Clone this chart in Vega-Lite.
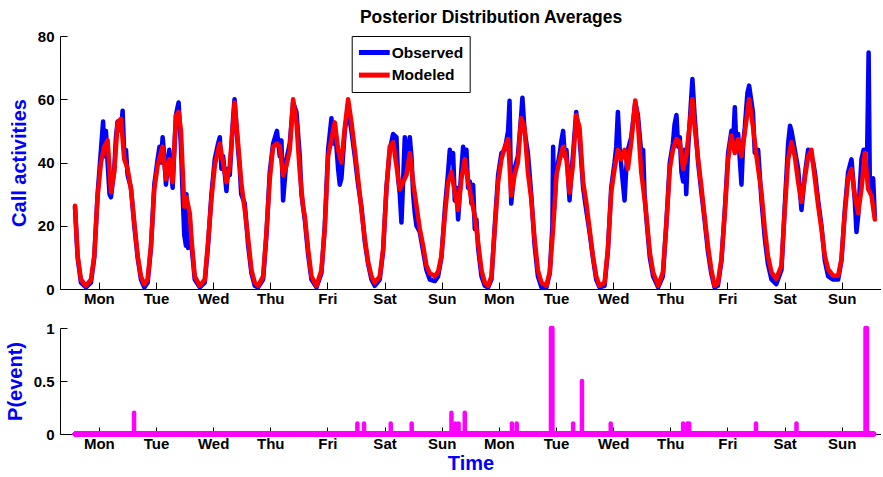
{
  "$schema": "https://vega.github.io/schema/vega-lite/v6.json",
  "padding": {"left": 5, "top": 8, "right": 0, "bottom": 0},
  "background": "white",
  "title": {"text": "Posterior Distribution Averages", "fontSize": 17.5, "fontWeight": "bold", "font": "Liberation Sans", "color": "black", "anchor": "middle", "offset": 3, "dx": 48},
  "config": {
    "font": "Liberation Sans",
    "view": {"stroke": null},
    "axis": {"labelFont": "Liberation Sans", "labelFontSize": 15, "labelFontWeight": "bold", "labelColor": "black", "domainColor": "black", "tickColor": "black", "domainWidth": 1, "tickWidth": 1, "grid": false, "titleFont": "Liberation Sans", "titleColor": "#0000ff", "titleFontSize": 20, "titleFontWeight": "bold"}
  },
  "datasets": {
    "modeled": [
      {"t":0,"v":26.3},{"t":1.1,"v":10.5},{"t":2.5,"v":3},{"t":4.6,"v":1},{"t":6.7,"v":3},{"t":8.1,"v":10.5},{"t":9.5,"v":29.5},{"t":10.9,"v":40},{"t":12.3,"v":45},{"t":13.7,"v":47},{"t":14.5,"v":38},{"t":15.1,"v":30.6},{"t":16.5,"v":37},{"t":17.9,"v":52.7},{"t":19.3,"v":53.8},{"t":20.7,"v":41},{"t":22.1,"v":38},{"t":23.5,"v":31.6},{"t":24.9,"v":21},{"t":26.3,"v":10.5},{"t":27.7,"v":4},{"t":29.1,"v":1.5},{"t":30.5,"v":3},{"t":31.9,"v":13.7},{"t":33.3,"v":31.6},{"t":34.7,"v":39},{"t":36.1,"v":43},{"t":36.8,"v":45},{"t":38.2,"v":34.8},{"t":39.6,"v":41},{"t":41,"v":33.8},{"t":42.4,"v":54.8},{"t":43.5,"v":56},{"t":44.5,"v":50},{"t":45.9,"v":26},
      {"t":46.8,"v":29},{"t":48.2,"v":24},{"t":48.9,"v":16},{"t":50.3,"v":4},{"t":52.4,"v":1},{"t":54.5,"v":3},{"t":55.9,"v":15},{"t":57.3,"v":28.5},{"t":58.7,"v":39},{"t":60.1,"v":44},{"t":60.8,"v":46},{"t":62.2,"v":40},{"t":63.6,"v":33.8},{"t":65,"v":39},{"t":66.4,"v":52.7},{"t":67,"v":59},{"t":68.5,"v":46},{"t":69.8,"v":33.8},{"t":71.3,"v":25},{"t":72.7,"v":16},{"t":74.1,"v":6},{"t":75.5,"v":2},{"t":76.9,"v":1},{"t":79,"v":4},{"t":80.4,"v":18},{"t":81.8,"v":34.8},{"t":83.2,"v":45},{"t":84.8,"v":46},{"t":86,"v":45},{"t":87.4,"v":36},{"t":88.8,"v":39},{"t":90.2,"v":44},{"t":91.6,"v":60},{"t":93,"v":52.7},{"t":94.4,"v":37},{"t":95.8,"v":26},
      {"t":96.5,"v":23},{"t":97.9,"v":12.6},{"t":99.3,"v":4},{"t":101.4,"v":1},{"t":103.5,"v":6},{"t":104.9,"v":19},{"t":106.3,"v":42},{"t":107.7,"v":47.4},{"t":109.1,"v":52.7},{"t":110.5,"v":44},{"t":111.9,"v":40},{"t":113.3,"v":51},{"t":114.7,"v":60},{"t":116.1,"v":52.7},{"t":117.5,"v":44},{"t":118.9,"v":34.8},{"t":120.3,"v":25},{"t":121.7,"v":16},{"t":123.1,"v":8.5},{"t":124.5,"v":4},{"t":125.9,"v":2},{"t":128,"v":4},{"t":129.4,"v":12.6},{"t":130.8,"v":31.6},{"t":132.2,"v":45},{"t":133.6,"v":46.4},{"t":135,"v":39},{"t":136.4,"v":31.6},{"t":137.8,"v":33.8},{"t":139.2,"v":36},{"t":140.6,"v":43},{"t":142,"v":33.8},{"t":143.4,"v":26.4},{"t":144.8,"v":19},
      {"t":146.2,"v":13.7},{"t":147.6,"v":7.4},{"t":149,"v":5},{"t":151.1,"v":4},{"t":152.5,"v":5.5},{"t":153.9,"v":10.5},{"t":155.3,"v":23},{"t":156.7,"v":33.8},{"t":158.1,"v":37},{"t":159.5,"v":30.5},{"t":160.9,"v":25},{"t":162.3,"v":34.8},{"t":163.7,"v":41},{"t":165.1,"v":33.8},{"t":166.5,"v":28.5},{"t":167.9,"v":23},{"t":169.3,"v":14.7},{"t":170.7,"v":6},{"t":172.1,"v":2},{"t":173.5,"v":1},{"t":174.9,"v":4},{"t":176.3,"v":19},{"t":177.7,"v":33.8},{"t":179.1,"v":41},{"t":180.5,"v":45},{"t":181.9,"v":47.4},{"t":183.2,"v":29.5},{"t":184.6,"v":36},{"t":186,"v":40},{"t":187.4,"v":54},{"t":188.8,"v":51},{"t":190.2,"v":37},{"t":191.6,"v":28.5},
      {"t":193,"v":16},{"t":194.4,"v":6},{"t":195.9,"v":2},{"t":198,"v":1},{"t":199.4,"v":5.5},{"t":200.8,"v":19},{"t":202.2,"v":36},{"t":203.6,"v":41},{"t":205,"v":45},{"t":206.4,"v":41},{"t":207.7,"v":30.5},{"t":209.1,"v":39},{"t":210.5,"v":55},{"t":211.9,"v":51},{"t":213.4,"v":33.8},{"t":214.7,"v":27.5},{"t":216.1,"v":19},{"t":217.5,"v":10.5},{"t":218.9,"v":4},{"t":220.3,"v":1},{"t":222.4,"v":2},{"t":223.8,"v":12.6},{"t":225.2,"v":30.5},{"t":226.6,"v":38},{"t":228,"v":44},{"t":229.4,"v":41},{"t":230.8,"v":44},{"t":232.2,"v":38},{"t":233.6,"v":46.4},{"t":235.3,"v":59.6},{"t":236.4,"v":52.7},{"t":237.8,"v":37},{"t":239.2,"v":28.5},
      {"t":240,"v":23},{"t":241.4,"v":11.6},{"t":242.8,"v":5.3},{"t":244.9,"v":1},{"t":246.9,"v":5.3},{"t":248.3,"v":20},{"t":249.8,"v":38},{"t":251.1,"v":44},{"t":252.6,"v":47.4},{"t":254,"v":46.4},{"t":255.4,"v":38},{"t":256.7,"v":42},{"t":258.1,"v":51.6},{"t":259.3,"v":60},{"t":260.2,"v":51.6},{"t":261.7,"v":41},{"t":263,"v":32.7},{"t":264.4,"v":23},{"t":265.8,"v":13.7},{"t":267.2,"v":6.3},{"t":268.6,"v":1},{"t":270,"v":2},{"t":271.5,"v":9.5},{"t":272.9,"v":24},{"t":274.3,"v":41},{"t":275.7,"v":48.5},{"t":277.1,"v":43},{"t":278.5,"v":47.4},{"t":279.9,"v":42},{"t":281.3,"v":49.5},{"t":283.1,"v":60},{"t":284.7,"v":51.6},{"t":286.2,"v":42},
      {"t":288.3,"v":30.5},{"t":289.7,"v":19},{"t":291,"v":10.5},{"t":292.5,"v":5.3},{"t":294.5,"v":3.2},{"t":296.7,"v":7.4},{"t":298,"v":24},{"t":299.5,"v":41},{"t":300.9,"v":46.4},{"t":302.3,"v":42},{"t":303.7,"v":33.8},{"t":305.1,"v":27.5},{"t":306.5,"v":35},{"t":307.9,"v":42},{"t":309.3,"v":44},{"t":310.7,"v":35},{"t":312.1,"v":26.4},{"t":313.5,"v":19},{"t":314.9,"v":10.5},{"t":316.3,"v":6.3},{"t":318.4,"v":4.2},{"t":320.5,"v":4.2},{"t":321.9,"v":9.5},{"t":323.3,"v":24},{"t":324.7,"v":35},{"t":326.1,"v":38},{"t":327.5,"v":29.5},{"t":328.9,"v":24},{"t":330.3,"v":31.6},{"t":331.7,"v":43},{"t":333.1,"v":31.6},{"t":334.5,"v":29.5},{"t":335.9,"v":22}
    ],
    "observed": [
      {"t":0,"v":26},{"t":1.1,"v":10},{"t":2.5,"v":2},{"t":4.6,"v":0.5},{"t":6.7,"v":2},{"t":8.1,"v":10},{"t":9.5,"v":30},{"t":10.9,"v":44},{"t":11.8,"v":53},{"t":12.3,"v":42},{"t":13,"v":50},{"t":13.7,"v":40},{"t":14.5,"v":30},{"t":15.1,"v":29},{"t":16.5,"v":38},{"t":17.2,"v":48},{"t":17.9,"v":53},{"t":19.3,"v":50},{"t":20,"v":56.4},{"t":20.7,"v":42},{"t":21.4,"v":44},{"t":22.1,"v":36},{"t":23.5,"v":32},{"t":24.9,"v":20},{"t":26.3,"v":10},{"t":27.7,"v":3},{"t":29.1,"v":0.5},{"t":30.5,"v":2},{"t":31.9,"v":13},{"t":33.3,"v":33},{"t":34.7,"v":41},{"t":35.5,"v":45},{"t":36.1,"v":40},{"t":36.8,"v":48},{"t":37.5,"v":42},{"t":38.2,"v":33},{"t":39.6,"v":44},{"t":40.3,"v":38},{"t":41,"v":32},{"t":42.4,"v":55},{"t":43.5,"v":59},{"t":44.5,"v":45},{"t":45.2,"v":30},{"t":45.9,"v":17},{"t":46.6,"v":13.7},
      {"t":46.8,"v":30},{"t":47.5,"v":13},{"t":48.2,"v":22},{"t":48.9,"v":14},{"t":50.3,"v":3},{"t":52.4,"v":0.5},{"t":54.5,"v":2},{"t":55.9,"v":14},{"t":57.3,"v":30},{"t":58.7,"v":41},{"t":60.1,"v":46},{"t":60.8,"v":48},{"t":61.5,"v":38},{"t":62.2,"v":42},{"t":63.6,"v":31},{"t":64.3,"v":38},{"t":65,"v":36},{"t":66.4,"v":54},{"t":67,"v":60},{"t":68.5,"v":44},{"t":69.2,"v":38},{"t":69.8,"v":30},{"t":71.3,"v":27},{"t":72.7,"v":14},{"t":74.1,"v":5},{"t":75.5,"v":1},{"t":76.9,"v":0.5},{"t":79,"v":3},{"t":80.4,"v":17},{"t":81.8,"v":37},{"t":83.2,"v":46},{"t":84.8,"v":50},{"t":86,"v":42},{"t":86.7,"v":47},{"t":87.4,"v":28},{"t":88.8,"v":41},{"t":90.2,"v":46},{"t":91.6,"v":59},{"t":93,"v":56},{"t":94.4,"v":42},{"t":95.1,"v":30},{"t":95.8,"v":26},
      {"t":96.5,"v":22},{"t":97.9,"v":11},{"t":99.3,"v":3},{"t":101.4,"v":0.5},{"t":103.5,"v":5},{"t":104.9,"v":20},{"t":106.3,"v":44},{"t":107.7,"v":54},{"t":108.4,"v":46},{"t":109.1,"v":52},{"t":110.5,"v":38},{"t":111.2,"v":33},{"t":111.9,"v":35},{"t":113.3,"v":50},{"t":114.7,"v":57},{"t":116.1,"v":50},{"t":117.5,"v":42},{"t":118.9,"v":33},{"t":120.3,"v":26},{"t":121.7,"v":15},{"t":123.1,"v":8},{"t":124.5,"v":3},{"t":125.9,"v":1},{"t":128,"v":3},{"t":129.4,"v":12},{"t":130.8,"v":32},{"t":132.2,"v":44},{"t":133.6,"v":49},{"t":135,"v":48},{"t":135.7,"v":35},{"t":136.4,"v":30},{"t":137.1,"v":21},{"t":137.8,"v":34},{"t":138.5,"v":48},{"t":139.2,"v":38},{"t":140.6,"v":48},{"t":141.3,"v":42},{"t":142,"v":30},{"t":142.7,"v":24},{"t":143.4,"v":20},{"t":144.8,"v":18},
      {"t":146.2,"v":12},{"t":147.6,"v":6},{"t":149,"v":3},{"t":151.1,"v":2.5},{"t":152.5,"v":4},{"t":153.9,"v":10},{"t":155.3,"v":25},{"t":156.7,"v":37},{"t":157.4,"v":44},{"t":158.1,"v":40},{"t":158.8,"v":43},{"t":159.5,"v":28},{"t":160.2,"v":32},{"t":160.9,"v":22},{"t":161.6,"v":30},{"t":162.3,"v":38},{"t":163,"v":45},{"t":163.7,"v":38},{"t":164.4,"v":44},{"t":165.1,"v":32},{"t":165.8,"v":34},{"t":166.5,"v":27},{"t":167.2,"v":33},{"t":167.9,"v":19},{"t":168.6,"v":22},{"t":169.3,"v":13},{"t":170.7,"v":4},{"t":172.1,"v":1},{"t":173.5,"v":0.5},{"t":174.9,"v":3},{"t":176.3,"v":20},{"t":177.7,"v":36},{"t":179.1,"v":43},{"t":180.5,"v":44},{"t":181.9,"v":50},{"t":182.5,"v":59.5},{"t":183.2,"v":27},{"t":184.6,"v":38},{"t":186,"v":42},{"t":187.4,"v":55},{"t":187.9,"v":60.5},{"t":188.8,"v":50},{"t":190.2,"v":43},{"t":191.6,"v":30},
      {"t":193,"v":14},{"t":194.4,"v":4},{"t":195.9,"v":0.5},{"t":198,"v":0.5},{"t":199.4,"v":5},{"t":200.5,"v":20},{"t":200.8,"v":45},{"t":201.2,"v":25},{"t":202.2,"v":37},{"t":203.6,"v":43},{"t":204.3,"v":47},{"t":205,"v":50},{"t":205.7,"v":42},{"t":206.4,"v":44},{"t":207.7,"v":28},{"t":208.4,"v":36},{"t":209.1,"v":42},{"t":210.5,"v":56},{"t":211.2,"v":50},{"t":211.9,"v":48},{"t":213.4,"v":32},{"t":214.7,"v":25},{"t":216.1,"v":18},{"t":217.5,"v":10},{"t":218.9,"v":3},{"t":220.3,"v":0.5},{"t":222.4,"v":1},{"t":223.8,"v":12},{"t":225.2,"v":32},{"t":226.6,"v":40},{"t":227.3,"v":45},{"t":228,"v":56},{"t":228.7,"v":45},{"t":229.4,"v":39},{"t":230.8,"v":28},{"t":231.5,"v":38},{"t":232.2,"v":44},{"t":233.6,"v":48},{"t":235.3,"v":59},{"t":236.4,"v":55},{"t":237.8,"v":43},{"t":238.6,"v":44},{"t":239.2,"v":30},
      {"t":240,"v":22},{"t":241.4,"v":10},{"t":242.8,"v":4},{"t":244.9,"v":0.5},{"t":246.9,"v":4},{"t":248.3,"v":20},{"t":249.8,"v":40},{"t":251.1,"v":46},{"t":251.8,"v":52},{"t":252.6,"v":55},{"t":253.3,"v":45},{"t":254,"v":48},{"t":254.7,"v":37},{"t":255.4,"v":34},{"t":256.1,"v":44},{"t":256.7,"v":30},{"t":257.4,"v":43},{"t":258.1,"v":52},{"t":259.3,"v":66.4},{"t":260.2,"v":55},{"t":261.7,"v":40},{"t":263,"v":31},{"t":264.4,"v":22},{"t":265.8,"v":12},{"t":267.2,"v":5},{"t":268.6,"v":0.5},{"t":270,"v":1},{"t":271.5,"v":9},{"t":272.9,"v":25},{"t":274.3,"v":43},{"t":275.7,"v":50},{"t":276.4,"v":46},{"t":277.1,"v":57.5},{"t":277.8,"v":44},{"t":278.5,"v":49},{"t":279.9,"v":33},{"t":280.6,"v":46},{"t":281.3,"v":51},{"t":282.4,"v":62},{"t":283.1,"v":64.3},{"t":284.7,"v":56},{"t":285.5,"v":43},{"t":286.2,"v":44},
      {"t":286.9,"v":44},{"t":288.3,"v":28},{"t":289.7,"v":16},{"t":291,"v":8},{"t":292.5,"v":3},{"t":294.5,"v":1.5},{"t":296.7,"v":6},{"t":298,"v":25},{"t":299.5,"v":46},{"t":300.3,"v":51.6},{"t":300.9,"v":50},{"t":302.3,"v":44},{"t":303.7,"v":38},{"t":305.1,"v":25},{"t":306.5,"v":36},{"t":307.9,"v":44},{"t":309.3,"v":42},{"t":310,"v":40},{"t":310.7,"v":37},{"t":312.1,"v":28},{"t":313.5,"v":20},{"t":314.9,"v":9},{"t":316.3,"v":4},{"t":318.4,"v":3},{"t":320.5,"v":3},{"t":321.9,"v":9},{"t":323.3,"v":25},{"t":324.7,"v":37},{"t":326.1,"v":41},{"t":327.5,"v":28},{"t":328.2,"v":18},{"t":328.9,"v":23},{"t":330.3,"v":41},{"t":331.2,"v":44},{"t":332.7,"v":44},{"t":333.3,"v":74.8},{"t":333.8,"v":33},{"t":334.5,"v":30},{"t":335.2,"v":35},{"t":335.9,"v":23}
    ],
    "events": [
      {"t":24.8,"p":0.2},{"t":118.6,"p":0.1},{"t":121.4,"p":0.1},{"t":132.6,"p":0.1},{"t":141.4,"p":0.1},{"t":158.1,"p":0.2},{"t":159.7,"p":0.1},{"t":161.1,"p":0.1},{"t":163.7,"p":0.2},{"t":183.5,"p":0.1},{"t":185.5,"p":0.1},{"t":199.9,"p":1},{"t":200.5,"p":1},{"t":209.2,"p":0.1},{"t":212.9,"p":0.5},{"t":225,"p":0.1},{"t":255.4,"p":0.1},{"t":257.2,"p":0.1},{"t":257.9,"p":0.1},{"t":286,"p":0.1},{"t":303,"p":0.1},{"t":332,"p":1},{"t":332.6,"p":1}
    ]
  },
  "vconcat": [
    {
      "width": 821,
      "height": 253,
      "layer": [
        {
          "data": {"name": "observed"},
          "mark": {"type": "line", "strokeWidth": 4.5, "strokeJoin": "round", "strokeCap": "round", "clip": false},
          "encoding": {
            "x": {"field": "t", "type": "quantitative", "scale": {"domain": [-6.3, 338.5], "nice": false, "zero": false},
                  "axis": {"values": [10,34,58,82,106,130,154,178,202,226,250,274,298,322], "labelExpr": "['Mon','Tue','Wed','Thu','Fri','Sat','Sun'][((datum.value-10)/24)%7]", "title": null, "tickSize": -7, "labelPadding": 9}},
            "y": {"field": "v", "type": "quantitative", "scale": {"domain": [0, 80], "nice": false},
                  "axis": {"values": [0,20,40,60,80], "title": "Call activities", "tickSize": -7, "labelPadding": 13, "titlePadding": 8}},
            "color": {"datum": "Observed", "type": "nominal",
                      "scale": {"domain": ["Observed", "Modeled"], "range": ["#0000ff", "#ff0000"]},
                      "legend": {"title": null, "orient": "none", "legendX": 291.7, "legendY": 0, "symbolType": "M-1.16,0H2.69", "symbolSize": 256, "symbolStrokeWidth": 5, "labelFontSize": 15.5, "labelFontWeight": "bold", "labelColor": "black", "labelFont": "Liberation Sans", "strokeColor": "black", "fillColor": "white", "padding": 6, "rowPadding": 1.6, "labelOffset": 13}}
          }
        },
        {
          "data": {"name": "modeled"},
          "mark": {"type": "line", "strokeWidth": 4.5, "strokeJoin": "round", "strokeCap": "round", "clip": false},
          "encoding": {
            "x": {"field": "t", "type": "quantitative"},
            "y": {"field": "v", "type": "quantitative"},
            "color": {"datum": "Modeled", "type": "nominal"}
          }
        }
      ]
    },
    {
      "width": 821,
      "height": 106,
      "data": {"name": "events"},
      "layer": [
        {
          "mark": {"type": "rule", "color": "#ff00ff", "strokeWidth": 4.5, "strokeCap": "round", "clip": false},
          "encoding": {
            "x": {"field": "t", "type": "quantitative", "scale": {"domain": [-6.3, 338.5], "nice": false, "zero": false},
                  "axis": {"values": [10,34,58,82,106,130,154,178,202,226,250,274,298,322], "labelExpr": "['Mon','Tue','Wed','Thu','Fri','Sat','Sun'][((datum.value-10)/24)%7]", "title": "Time", "titlePadding": 2, "tickSize": -7, "labelPadding": 9}},
            "y": {"field": "p", "type": "quantitative", "scale": {"domain": [0, 1], "nice": false},
                  "axis": {"values": [0, 0.5, 1], "labelExpr": "'' + datum.value", "title": "P(event)", "tickSize": -7, "labelPadding": 13, "titlePadding": 8}},
            "y2": {"datum": 0}
          }
        },
        {
          "mark": {"type": "rule", "color": "#ff00ff", "strokeWidth": 4.5, "strokeCap": "round", "clip": false},
          "encoding": {
            "x": {"datum": 0, "type": "quantitative"},
            "x2": {"datum": 335.5},
            "y": {"datum": 0, "type": "quantitative"}
          }
        }
      ]
    }
  ],
  "spacing": 15
}
